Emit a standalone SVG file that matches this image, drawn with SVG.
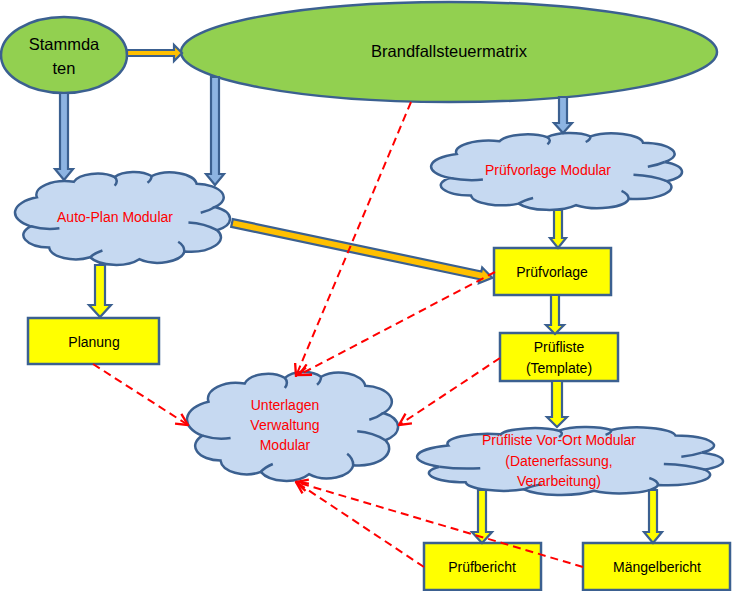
<svg xmlns="http://www.w3.org/2000/svg" xmlns:xlink="http://www.w3.org/1999/xlink" width="732" height="591" viewBox="0 0 732 591">
<style>
.ell{fill:#92D050;stroke:#3B6090;stroke-width:2.5}
.cloud{fill:#C6D9F1;stroke:#3B6090;stroke-width:2.5;vector-effect:non-scaling-stroke}
.cin{fill:none;stroke:#3B6090;stroke-width:2.5;vector-effect:non-scaling-stroke}
.box{fill:#FFFF00;stroke:#3B6090;stroke-width:2.5}
.t{font-family:"Liberation Sans",Arial,sans-serif;font-size:14px;text-anchor:middle}
.big{font-size:16.5px}
.blk{fill:#000}
.red{fill:#FF0000}
.ba{fill:#8DB4E2;stroke:#3B6090;stroke-width:2.2;stroke-linejoin:miter}
.ya{fill:#FFFF00;stroke:#3B6090;stroke-width:2.2}
.oa{fill:#FFC000;stroke:#3B6090;stroke-width:2.2}
.dash{fill:none;stroke:#FF0000;stroke-width:2;stroke-dasharray:8 5;marker-end:url(#open)}
</style>
<defs>
<marker id="open" markerUnits="userSpaceOnUse" markerWidth="14" markerHeight="14" viewBox="0 0 12 12" refX="11" refY="6" orient="auto">
<path d="M1,1 L11,6 L1,11" fill="none" stroke="#FF0000" stroke-width="2" stroke-dasharray="none"/>
</marker>
<g id="cloudShape">
<path class="cloud" d="M5,60 A17,17 0 0 1 8,30 A14,14 0 0 1 26,14 A12,12 0 0 1 46,9 A11,11 0 0 1 64,8 A13,13 0 0 1 86,16 A14,14 0 0 1 95,40 A14,14 0 0 1 96,64 A15,15 0 0 1 80,86 A13,13 0 0 1 58,94 A14,14 0 0 1 34,92 A13,13 0 0 1 14,82 A13,13 0 0 1 5,60 Z"/>
<path class="cin" d="M5,60 Q12,64 19,62 M46,9 Q48,13 46,18 M64,8 Q64,12 62,15 M96,64 Q90,57 82,56 M80,86 Q80,80 77,76 M34,92 Q36,88 40,85 M95,40 Q92,44 88,46"/>
</g>
</defs>

<g id="stammdaten">
<ellipse class="ell" cx="64" cy="55" rx="63" ry="38"/>
<text class="t big blk" x="64" y="50">Stammda</text>
<text class="t big blk" x="64" y="74">ten</text>
</g>

<g id="brandfallsteuermatrix">
<ellipse class="ell" cx="449" cy="52" rx="268" ry="50"/>
<text class="t big blk" x="449" y="57">Brandfallsteuermatrix</text>
</g>

<g id="auto-plan-modular">
<use xlink:href="#cloudShape" transform="translate(20.5,168.3) scale(2.048,0.967)"/>
<text class="t red" x="115" y="222">Auto-Plan Modular</text>
</g>

<g id="pruefvorlage-modular">
<use xlink:href="#cloudShape" transform="translate(437.5,130) scale(2.39,0.8)"/>
<text class="t red" x="548" y="175">Prüfvorlage Modular</text>
</g>

<g id="unterlagen-verwaltung-modular">
<use xlink:href="#cloudShape" transform="translate(192.4,367.7) scale(2.01,1.133)"/>
<text class="t red" x="285" y="410">Unterlagen</text>
<text class="t red" x="285" y="430">Verwaltung</text>
<text class="t red" x="285" y="450">Modular</text>
</g>

<g id="pruefliste-vor-ort-modular">
<use xlink:href="#cloudShape" transform="translate(424.9,424.3) scale(2.914,0.707)"/>
<text class="t red" x="559" y="445">Prüfliste Vor-Ort Modular</text>
<text class="t red" x="559" y="466">(Datenerfassung,</text>
<text class="t red" x="559" y="486">Verarbeitung)</text>
</g>

<g id="planung">
<rect class="box" x="28" y="318" width="131" height="46"/>
<text class="t blk" x="94" y="347">Planung</text>
</g>

<g id="pruefvorlage">
<rect class="box" x="494" y="248" width="117" height="47"/>
<text class="t blk" x="552" y="277">Prüfvorlage</text>
</g>

<g id="pruefliste-template">
<rect class="box" x="500" y="333" width="118" height="48"/>
<text class="t blk" x="559" y="352">Prüfliste</text>
<text class="t blk" x="559" y="373">(Template)</text>
</g>

<g id="pruefbericht">
<rect class="box" x="424" y="543" width="117" height="47"/>
<text class="t blk" x="482" y="572">Prüfbericht</text>
</g>

<g id="maengelbericht">
<rect class="box" x="583" y="543" width="147" height="47"/>
<text class="t blk" x="657" y="572">Mängelbericht</text>
</g>

<g id="connectors">
<polygon class="oa" points="127,50 174,50 174,45 182,53 174,61 174,56 127,56"/>
<polygon class="oa" transform="translate(232,223) rotate(11.9)" points="0,-4 254,-4 254,-8 266,0 254,8 254,4 0,4"/>
<polygon class="ba" points="60,93 68,93 68,169 73,169 64,180 55,169 60,169"/>
<polygon class="ba" points="211,77 219,77 219,174 224,174 215,185 206,174 211,174"/>
<polygon class="ba" points="559,97 567,97 567,123 572,123 563,133 554,123 559,123"/>
<polygon class="ya" points="95,265 105,265 105,305 111,305 100,317 89,305 95,305"/>
<polygon class="ya" points="554,210 562,210 562,238 566,238 558,248 550,238 554,238"/>
<polygon class="ya" points="551,295 559,295 559,325 564,325 555,334 546,325 551,325"/>
<polygon class="ya" points="552,381 562,381 562,417 567,417 557,427 547,417 552,417"/>
<polygon class="ya" points="478,490 486,490 486,532 492,532 482,543 472,532 478,532"/>
<polygon class="ya" points="649,490 657,490 657,532 662,532 653,543 644,532 649,532"/>
<path class="dash" d="M411,102 L296,376"/>
<path class="dash" d="M495,272 L299,375"/>
<path class="dash" d="M500,358 L399,425"/>
<path class="dash" d="M93,364 L188,425"/>
<path class="dash" d="M424,567 L296,482"/>
<path class="dash" d="M583,567 L296,482"/>
</g>
</svg>
